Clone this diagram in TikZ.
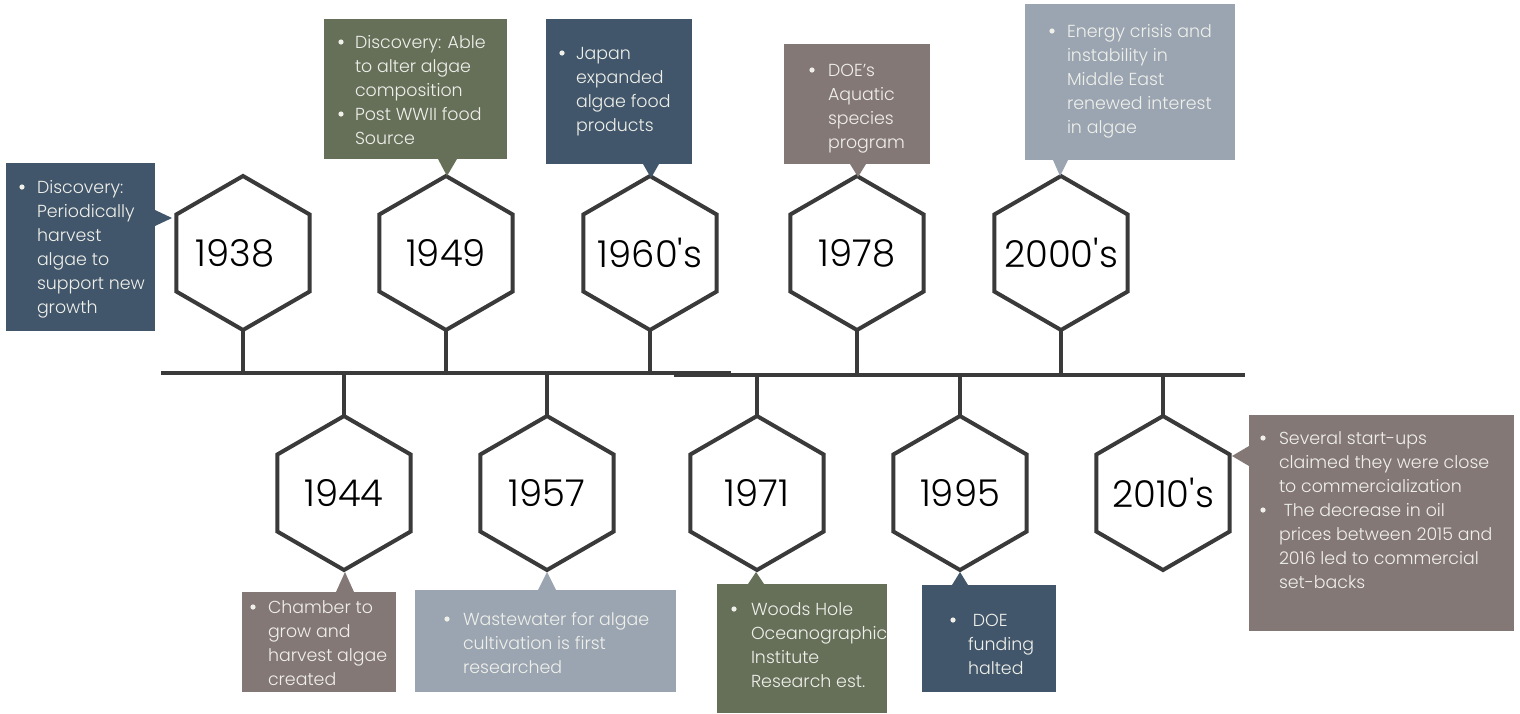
\documentclass[tikz,border=0pt]{standalone}
\usepackage{fontspec}
\setmainfont{Poppins Light}
\usetikzlibrary{shapes.geometric}
\definecolor{cslate}{HTML}{41566A}
\definecolor{colive}{HTML}{667059}
\definecolor{cmauve}{HTML}{847877}
\definecolor{clight}{HTML}{9AA5B1}
\definecolor{ctxt}{HTML}{F0F0EB}
\definecolor{cline}{HTML}{3A3A3A}
\newcommand\callout[6]{\node[cbox, fill=#6, minimum width={(#4-#2)*0.5pt}, minimum height={(#5-#3)*0.5pt}] (#1) at (#2,#3) {};}
\newcommand\bulletdot[2]{\fill[ctxt] (#1,#2) circle[radius=2.6];}
\newcommand\lines[1]{\begin{tabular}{@{}l@{}}#1\end{tabular}}
\newcommand\yr[1]{\makebox[0pt][c]{#1}}
\begin{document}
\begin{tikzpicture}[x=0.5pt,y=-0.5pt,
  cbox/.style={rectangle, draw=none, inner sep=0pt, outer sep=0pt, anchor=north west},
  ctext/.style={inner sep=0pt, outer sep=0pt, anchor=north west, text=ctxt, font=\fontsize{8.7}{12}\selectfont},
  hexa/.style={regular polygon, regular polygon sides=6, shape border rotate=30, draw=cline, line width=2pt, minimum size=77pt, inner sep=0pt, outer sep=0pt, fill=white, text=black, font=\fontsize{18.5}{22}\selectfont},
  tl/.style={draw=cline, line width=2pt}]
\useasboundingbox (0,0) rectangle (1520,713);
\fill[white] (0,0) rectangle (1520,713);

% timeline
\coordinate (L1a) at (161,372.5);
\coordinate (L1b) at (731,372.5);
\coordinate (L2a) at (674,374.5);
\coordinate (L2b) at (1245,374.5);
\draw[tl] (L1a) -- (L1b);
\draw[tl] (L2a) -- (L2b);

% hexagons
\node[hexa] (h1938) at (243,253) {\yr{\hspace*{-8pt}1938}};
\node[hexa] (h1949) at (446,253) {\yr{1949}};
\node[hexa] (h1960) at (650,253) {\yr{1960\textquotesingle s}};
\node[hexa] (h1978) at (857,253) {\yr{1978}};
\node[hexa] (h2000) at (1061,253) {\yr{2000\textquotesingle s}};
\node[hexa] (h1944) at (344,493) {\yr{1944}};
\node[hexa] (h1957) at (547,493) {\yr{1957}};
\node[hexa] (h1971) at (757,493) {\yr{1971}};
\node[hexa] (h1995) at (960,493) {\yr{1995}};
\node[hexa] (h2010) at (1163,493) {\yr{2010\textquotesingle s}};

% stems
\draw[tl] (h1938.south) -- (h1938.south |- L1a);
\draw[tl] (h1949.south) -- (h1949.south |- L1a);
\draw[tl] (h1960.south) -- (h1960.south |- L1a);
\draw[tl] (h1978.south) -- (h1978.south |- L2a);
\draw[tl] (h2000.south) -- (h2000.south |- L2a);
\draw[tl] (h1944.north) -- (h1944.north |- L1a);
\draw[tl] (h1957.north) -- (h1957.north |- L1a);
\draw[tl] (h1971.north) -- (h1971.north |- L2a);
\draw[tl] (h1995.north) -- (h1995.north |- L2a);
\draw[tl] (h2010.north) -- (h2010.north |- L2a);

% callout boxes
\callout{b1938}{6}{163}{155}{331}{cslate}
\callout{b1949}{324}{19}{507}{159}{colive}
\callout{b1960}{546}{19}{692}{164}{cslate}
\callout{b1978}{784}{44}{930}{164}{cmauve}
\callout{b2000}{1025}{4}{1235}{160}{clight}
\callout{b1944}{242}{592}{396}{692}{cmauve}
\callout{b1957}{415}{590}{676}{692}{clight}
\callout{b1971}{717}{584}{887}{713}{colive}
\callout{b1995}{922}{585}{1056}{692}{cslate}
\callout{b2010}{1249}{415}{1514}{631}{cmauve}

% pointers
\fill[cslate] (155,210) -- (172,218) -- (155,226) -- cycle;
\fill[colive] (438,159) -- (447,176) -- (457,159) -- cycle;
\fill[cslate] (643,164) -- (651,178) -- (659,164) -- cycle;
\fill[cmauve] (850,164) -- (858,177) -- (866,164) -- cycle;
\fill[clight] (1053,160) -- (1060,176) -- (1068,160) -- cycle;
\fill[cmauve] (336,592) -- (345,572) -- (354,592) -- cycle;
\fill[clight] (538,590) -- (547,572) -- (556,590) -- cycle;
\fill[colive] (748,584) -- (756,572) -- (764,584) -- cycle;
\fill[cslate] (952,585) -- (960,572) -- (968,585) -- cycle;
\fill[cmauve] (1249,446) -- (1232,456) -- (1249,466) -- cycle;

% texts
\node[ctext] (t1938) at (37,176.2) {\lines{Discovery:\\Periodically\\harvest\\algae to\\support new\\growth}};
\node[ctext] (t1949) at (355,31.2) {\lines{Discovery: Able\\to alter algae\\composition\\Post WWII food\\Source}};
\node[ctext] (t1960) at (576,42.2) {\lines{Japan\\expanded\\algae food\\products}};
\node[ctext] (t1978) at (828,59.2) {\lines{DOE’s\\Aquatic\\species\\program}};
\node[ctext] (t2000) at (1067,20.2) {\lines{Energy crisis and\\instability in\\Middle East\\renewed interest\\in algae}};
\node[ctext] (t1944) at (268,596.2) {\lines{Chamber to\\grow and\\harvest algae\\created}};
\node[ctext] (t1957) at (463,608.2) {\lines{Wastewater for algae\\cultivation is first\\researched}};
\node[ctext] (t1971) at (751,598.2) {\lines{Woods Hole\\Oceanographic\\Institute\\Research est.}};
\node[ctext] (t1995) at (968,609.2) {\lines{\ DOE\\funding\\halted}};
\node[ctext] (t2010) at (1279,427.2) {\lines{Several start-ups\\claimed they were close\\to commercialization\\\ The decrease in oil\\prices between 2015 and\\2016 led to commercial\\set-backs}};

% bullets
\bulletdot{22}{187}
\bulletdot{341}{42}
\bulletdot{341}{114}
\bulletdot{562}{53}
\bulletdot{812}{70}
\bulletdot{1052}{31}
\bulletdot{253}{607}
\bulletdot{447}{619}
\bulletdot{734}{609}
\bulletdot{953}{620}
\bulletdot{1263}{438}
\bulletdot{1263}{510}
\end{tikzpicture}
\end{document}
